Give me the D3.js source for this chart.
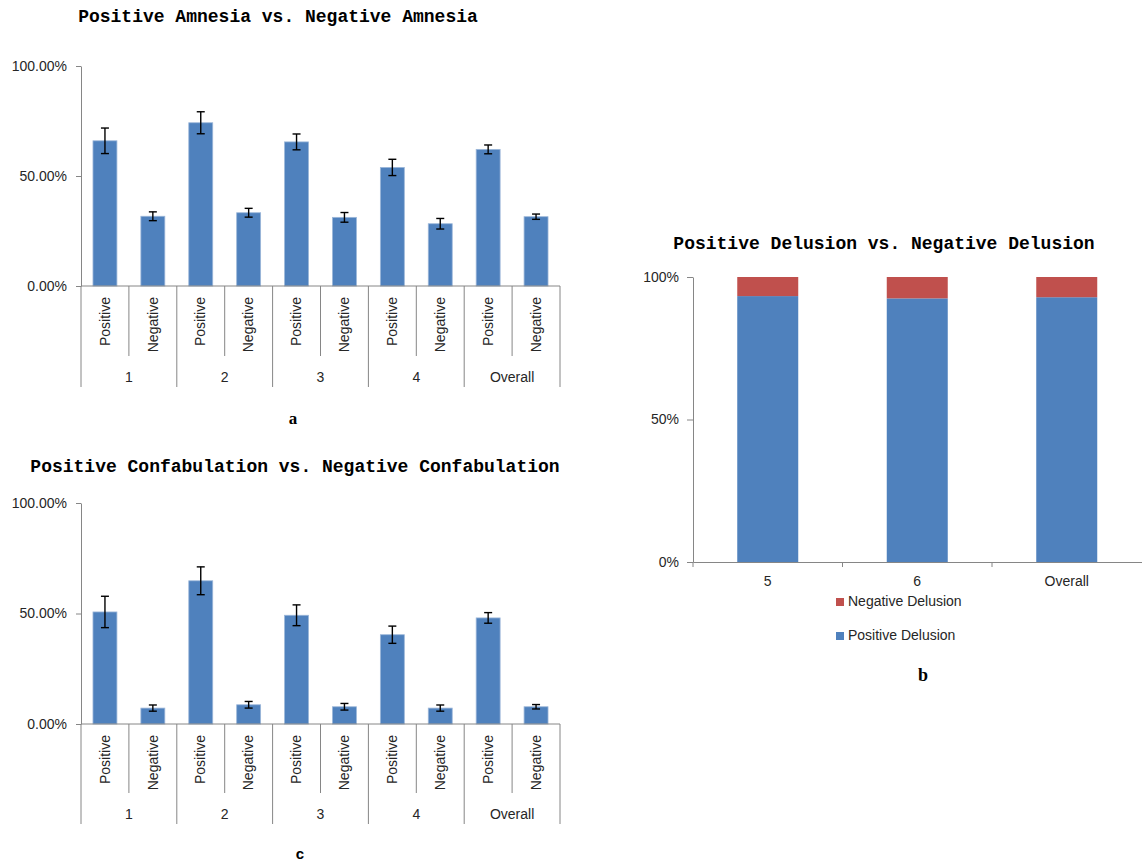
<!DOCTYPE html>
<html>
<head>
<meta charset="utf-8">
<script src="https://cdn.jsdelivr.net/npm/d3@7"></script>
<style>
  html, body { margin: 0; padding: 0; background: #fff; }
  svg { display: block; }
</style>
</head>
<body>
<svg id="chart" width="1143" height="866"></svg>
<script>
// ---------------- DATA ----------------
const groups = ["1", "2", "3", "4", "Overall"];
const subCategories = ["Positive", "Negative"];
const amnesiaValues = [66.0, 31.7, 74.2, 33.3, 65.5, 31.2, 53.9, 28.3, 62.1, 31.5];
const amnesiaErrors = [5.8, 2.0, 5.0, 2.0, 3.6, 2.2, 3.7, 2.4, 2.0, 1.2];
const confabValues = [50.7, 7.2, 64.8, 8.7, 49.2, 7.8, 40.4, 7.2, 48.0, 7.8];
const confabErrors = [7.1, 1.4, 6.3, 1.5, 4.7, 1.5, 3.9, 1.4, 2.4, 1.0];
const percentTicksAC = [0, 50, 100];
const delusionCategories = ["5", "6", "Overall"];
const positiveDelusion = [93.3, 92.5, 92.9];
const negativeDelusion = [6.7, 7.5, 7.1];
const percentTicksB = [0, 50, 100];
const delusionSeries = ["Negative Delusion", "Positive Delusion"];

// ---------------- STYLE ----------------
const BLUE = "#4F81BD", RED = "#C0504D", AXIS = "#868686", TXT = "#262626";
const svg = d3.select("#chart");
const labelFont = "'Liberation Sans', Arial, sans-serif";
const titleFont = "'Liberation Mono', 'Courier New', monospace";
const FS = "14px";

function title(text, cx, cy) {
  svg.append("text").attr("x", cx).attr("y", cy)
    .attr("text-anchor", "middle").attr("dominant-baseline", "middle")
    .style("font-family", titleFont).style("font-weight", "bold")
    .style("font-size", "18px").attr("fill", "#000").text(text);
}

function groupedChart(opts) {
  const { values, errors, x0, x1, y0, y100, labelGap, innerLen, outerLen, groupLabelY } = opts;
  const keys = [];
  groups.forEach(g => subCategories.forEach(s => keys.push(g + "|" + s)));
  const x = d3.scaleBand().domain(keys).range([x0, x1]).paddingInner(0.5).paddingOuter(0.25);
  const y = d3.scaleLinear().domain([0, 100]).range([y0, y100]);
  const step = x.step();
  const g = svg.append("g");

  // y axis
  const yAxis = d3.axisLeft(y).tickValues(percentTicksAC).tickSize(5).tickSizeOuter(0)
    .tickFormat(d => d3.format(".2f")(d) + "%");
  const ya = g.append("g").attr("transform", `translate(${x0},0)`).call(yAxis);
  ya.select(".domain").attr("stroke", AXIS);
  ya.selectAll(".tick line").attr("stroke", AXIS);
  ya.selectAll(".tick text").attr("x", -14).attr("fill", TXT)
    .style("font-family", labelFont).style("font-size", FS);

  // bars
  g.selectAll("rect.bar").data(values).join("rect").attr("class", "bar")
    .attr("x", (d, i) => x(keys[i]))
    .attr("width", x.bandwidth())
    .attr("y", d => y(d))
    .attr("height", d => y0 - y(d))
    .attr("fill", BLUE).attr("stroke", "#9cb7d9").attr("stroke-width", 0.8);

  // error bars
  const cap = 4;
  const eb = g.selectAll("g.err").data(values).join("g").attr("class", "err")
    .attr("transform", (d, i) => `translate(${x(keys[i]) + x.bandwidth() / 2},0)`);
  eb.append("line").attr("y1", (d, i) => y(d + errors[i])).attr("y2", (d, i) => y(d - errors[i]));
  eb.append("line").attr("x1", -cap).attr("x2", cap).attr("y1", (d, i) => y(d + errors[i])).attr("y2", (d, i) => y(d + errors[i]));
  eb.append("line").attr("x1", -cap).attr("x2", cap).attr("y1", (d, i) => y(d - errors[i])).attr("y2", (d, i) => y(d - errors[i]));
  eb.selectAll("line").attr("stroke", "#000").attr("stroke-width", 1.4);

  // x axis baseline
  g.append("line").attr("x1", x0).attr("x2", x1).attr("y1", y0).attr("y2", y0).attr("stroke", AXIS);

  // separators
  keys.forEach((k, i) => {
    const left = x(k) - step * 0.25;
    const isGroupStart = i % 2 === 0;
    g.append("line").attr("x1", left).attr("x2", left).attr("y1", y0)
      .attr("y2", y0 + (isGroupStart ? outerLen : innerLen)).attr("stroke", AXIS);
  });
  g.append("line").attr("x1", x1).attr("x2", x1).attr("y1", y0).attr("y2", y0 + outerLen).attr("stroke", AXIS);

  // rotated sub labels
  keys.forEach((k, i) => {
    const cx = x(k) + x.bandwidth() / 2 + 1;
    g.append("text").attr("transform", `translate(${cx},${y0 + labelGap}) rotate(-90)`)
      .attr("text-anchor", "end").attr("dominant-baseline", "middle")
      .style("font-family", labelFont).style("font-size", FS).attr("fill", TXT)
      .text(k.split("|")[1]);
  });

  // group labels
  groups.forEach((gr) => {
    const cx = x(gr + "|Positive") - step * 0.25 + step;
    g.append("text").attr("x", cx).attr("y", groupLabelY)
      .attr("text-anchor", "middle").attr("dominant-baseline", "middle")
      .style("font-family", labelFont).style("font-size", FS).attr("fill", TXT).text(gr);
  });
}

// ---------------- Chart a ----------------
title("Positive Amnesia vs. Negative Amnesia", 278, 17);
groupedChart({ values: amnesiaValues, errors: amnesiaErrors, x0: 81, x1: 560, y0: 286, y100: 66,
  labelGap: 11, innerLen: 70, outerLen: 101, groupLabelY: 378 });
svg.append("text").attr("x", 293).attr("y", 420).attr("text-anchor", "middle").attr("dominant-baseline", "middle")
  .style("font-family", "'Liberation Serif', serif").style("font-weight", "bold").style("font-size", "17px").text("a");

// ---------------- Chart c ----------------
title("Positive Confabulation vs. Negative Confabulation", 295, 467);
groupedChart({ values: confabValues, errors: confabErrors, x0: 81, x1: 560, y0: 724, y100: 503,
  labelGap: 11, innerLen: 69, outerLen: 100, groupLabelY: 815 });
svg.append("text").attr("x", 300).attr("y", 855).attr("text-anchor", "middle").attr("dominant-baseline", "middle")
  .style("font-family", labelFont).style("font-weight", "bold").style("font-size", "15px").text("c");

// ---------------- Chart b ----------------
title("Positive Delusion vs. Negative Delusion", 884, 244);
(function () {
  const x0 = 693, x1 = 1141.5, y0 = 562, y100 = 277;
  const x = d3.scaleBand().domain(delusionCategories).range([x0, x1]).paddingInner(0.592).paddingOuter(0.296);
  const y = d3.scaleLinear().domain([0, 100]).range([y0, y100]);
  const g = svg.append("g");
  const yAxis = d3.axisLeft(y).tickValues(percentTicksB).tickSize(6).tickSizeOuter(0).tickFormat(d => d + "%");
  const ya = g.append("g").attr("transform", `translate(${x0},0)`).call(yAxis);
  ya.select(".domain").attr("stroke", AXIS);
  ya.selectAll(".tick line").attr("stroke", AXIS);
  ya.selectAll(".tick text").attr("x", -14).attr("fill", TXT)
    .style("font-family", labelFont).style("font-size", FS);

  const rows = delusionCategories.map((c, i) => ({ c, pos: positiveDelusion[i], neg: negativeDelusion[i] }));
  const stack = d3.stack().keys(["pos", "neg"])(rows);
  const colors = { pos: BLUE, neg: RED };
  stack.forEach(layer => {
    g.selectAll(null).data(layer).join("rect")
      .attr("x", d => x(d.data.c)).attr("width", x.bandwidth())
      .attr("y", d => y(d[1])).attr("height", d => y(d[0]) - y(d[1]))
      .attr("fill", colors[layer.key]);
  });

  const xAxis = d3.axisBottom(x).tickSize(0).tickSizeOuter(0);
  const xa = g.append("g").attr("transform", `translate(0,${y0})`).call(xAxis);
  xa.select(".domain").attr("stroke", AXIS);
  xa.selectAll(".tick text").attr("y", 14).attr("fill", TXT)
    .style("font-family", labelFont).style("font-size", FS);
  // boundary ticks
  const step = x.step();
  [0, 1, 2].forEach(i => {
    const bx = x0 + i * step;
    g.append("line").attr("x1", bx).attr("x2", bx).attr("y1", y0).attr("y2", y0 + 5).attr("stroke", AXIS);
  });

  // legend
  const legendColors = { "Negative Delusion": RED, "Positive Delusion": BLUE };
  delusionSeries.forEach((s, i) => {
    const ly = 602 + i * 34;
    g.append("rect").attr("x", 836).attr("y", ly - 4).attr("width", 8).attr("height", 8).attr("fill", legendColors[s]);
    g.append("text").attr("x", 848).attr("y", ly).attr("dominant-baseline", "middle")
      .style("font-family", labelFont).style("font-size", FS).attr("fill", TXT).text(s);
  });
})();
svg.append("text").attr("x", 923).attr("y", 677).attr("text-anchor", "middle").attr("dominant-baseline", "middle")
  .style("font-family", "'Liberation Serif', serif").style("font-weight", "bold").style("font-size", "18px").text("b");
</script>
</body>
</html>
